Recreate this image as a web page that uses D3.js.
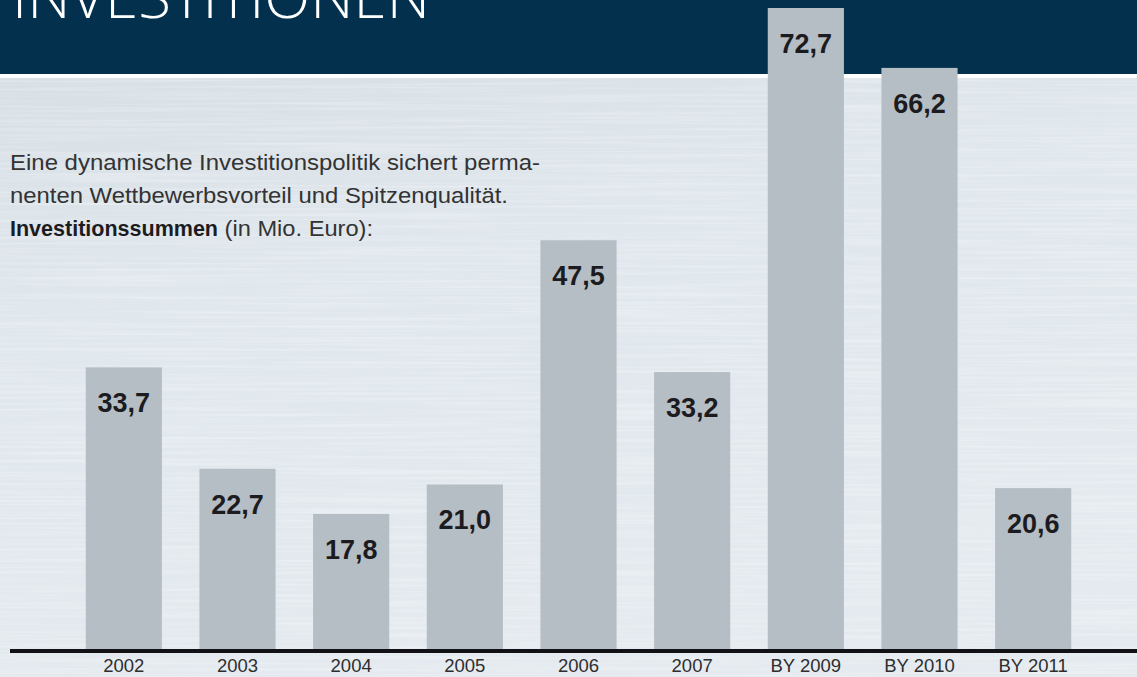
<!DOCTYPE html>
<html lang="de">
  <head>
    <meta charset="UTF-8" />
    <title>Investitionen</title>
    <script src="https://d3js.org/d3.v7.min.js"></script>
    <style>
      html, body {
        margin: 0;
        padding: 0;
        overflow: hidden;
      }
      body {
        font-family: 'Liberation Sans', Arial, Helvetica, sans-serif;
      }
      .value {
        font-size: 27px;
        font-weight: bold;
        fill: #1c1c20;
      }
      .tick-label {
        font-size: 18.5px;
        fill: #2e2e2e;
      }
      .intro {
        font-family: 'Liberation Sans', Arial, sans-serif;
        font-size: 21.5px;
        fill: #333;
      }
    </style>
  </head>
  <body>
    <svg width="1137" height="677"></svg>

    <script>
      const categories = ['2002', '2003', '2004', '2005', '2006', '2007', 'BY 2009', 'BY 2010', 'BY 2011'];
      const values = [33.7, 22.7, 17.8, 21.0, 47.5, 33.2, 72.7, 66.2, 20.6];
      const valueLabels = ['33,7', '22,7', '17,8', '21,0', '47,5', '33,2', '72,7', '66,2', '20,6'];

      const svg = d3.select('svg'),
        width = +svg.attr('width'),
        height = +svg.attr('height');

      const baseY = 649;

      // brushed metal background
      const defs = svg.append('defs');
      const grad = defs.append('linearGradient')
        .attr('id', 'bg')
        .attr('x1', 0).attr('y1', 0).attr('x2', 0.3).attr('y2', 1);
      grad.append('stop').attr('offset', '0%').attr('stop-color', '#d5dde3');
      grad.append('stop').attr('offset', '45%').attr('stop-color', '#e0e7ed');
      grad.append('stop').attr('offset', '100%').attr('stop-color', '#e4eaef');

      const f = defs.append('filter').attr('id', 'brush')
        .attr('x', 0).attr('y', 0).attr('width', '100%').attr('height', '100%');
      f.append('feTurbulence')
        .attr('type', 'fractalNoise')
        .attr('baseFrequency', '0.004 0.35')
        .attr('numOctaves', 3)
        .attr('seed', 7)
        .attr('result', 'noise');
      f.append('feColorMatrix')
        .attr('in', 'noise')
        .attr('type', 'matrix')
        .attr('values', '0 0 0 0 1  0 0 0 0 1  0 0 0 0 1  0 0 0 1.1 -0.45');

      svg.append('rect')
        .attr('width', width).attr('height', height)
        .attr('fill', 'url(#bg)');
      svg.append('rect')
        .attr('width', width).attr('height', height)
        .attr('filter', 'url(#brush)')
        .attr('opacity', 0.6);

      // header band
      svg.append('rect')
        .attr('x', 0).attr('y', 0)
        .attr('width', width).attr('height', 74)
        .attr('fill', '#03304d');
      svg.append('rect')
        .attr('x', 0).attr('y', 74)
        .attr('width', width).attr('height', 4)
        .attr('fill', '#ffffff');

      // title runs off the top edge, as in the original layout
      svg.append('text')
        .attr('x', 12)
        .attr('y', 18)
        .attr('fill', '#ffffff')
        .style('font-family', "'Open Sans', 'Liberation Sans', sans-serif")
        .style('font-weight', 300)
        .style('font-size', '58px')
        .attr('textLength', 418)
        .attr('lengthAdjust', 'spacingAndGlyphs')
        .text('INVESTITIONEN');

      // scales
      const x = d3.scaleBand()
        .domain(categories)
        .range([67, 1090])
        .paddingInner(0.33)
        .paddingOuter(0.165);

      const y = d3.scaleLinear()
        .domain([0, 72.7])
        .range([678, 8]);

      const data = categories.map((c, i) => ({ cat: c, v: values[i], label: valueLabels[i] }));

      // bars
      svg.selectAll('rect.bar')
        .data(data)
        .enter()
        .append('rect')
        .attr('class', 'bar')
        .attr('x', (d) => x(d.cat))
        .attr('y', (d) => y(d.v))
        .attr('width', x.bandwidth())
        .attr('height', (d) => baseY - y(d.v))
        .attr('fill', '#b6bec5');

      svg.selectAll('text.value')
        .data(data)
        .enter()
        .append('text')
        .attr('class', 'value')
        .attr('x', (d) => x(d.cat) + x.bandwidth() / 2)
        .attr('y', (d) => y(d.v) + 45)
        .attr('text-anchor', 'middle')
        .text((d) => d.label);

      // baseline + category labels
      svg.append('rect')
        .attr('x', 10).attr('y', baseY)
        .attr('width', width - 10).attr('height', 4)
        .attr('fill', '#121216');

      svg.selectAll('text.tick-label')
        .data(categories)
        .enter()
        .append('text')
        .attr('class', 'tick-label')
        .attr('x', (d) => x(d) + x.bandwidth() / 2)
        .attr('y', 672)
        .attr('text-anchor', 'middle')
        .text((d) => d);

      // intro text
      const intro = svg.append('text').attr('class', 'intro');
      intro.append('tspan').attr('x', 10).attr('y', 170)
        .attr('textLength', 530)
        .attr('lengthAdjust', 'spacingAndGlyphs')
        .text('Eine dynamische Investitionspolitik sichert perma-');
      intro.append('tspan').attr('x', 10).attr('y', 203)
        .attr('textLength', 498)
        .attr('lengthAdjust', 'spacingAndGlyphs')
        .text('nenten Wettbewerbsvorteil und Spitzenqualität.');
      const l3 = intro.append('tspan').attr('x', 10).attr('y', 236);
      l3.append('tspan').style('font-weight', 'bold').style('fill', '#1c1c20')
        .attr('textLength', 208).attr('lengthAdjust', 'spacingAndGlyphs')
        .text('Investitionssummen');
      l3.append('tspan')
        .attr('textLength', 155).attr('lengthAdjust', 'spacingAndGlyphs')
        .text(' (in Mio. Euro):');
    </script>
  </body>
</html>
